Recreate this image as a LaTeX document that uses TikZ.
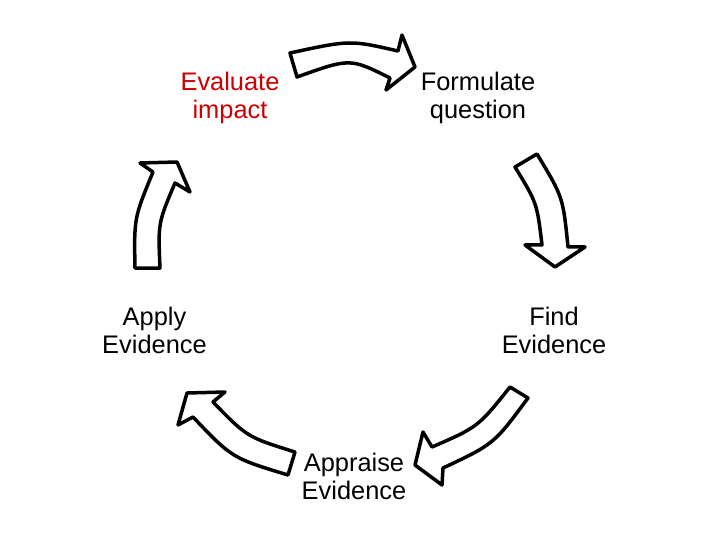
\documentclass[tikz,border=0pt]{standalone}
\usepackage{fontspec}
\setmainfont{Liberation Sans}
\definecolor{labelred}{RGB}{204,0,0}
\begin{document}
\begin{tikzpicture}[x=1bp,y=-1bp,
  cyclearrow/.style={draw=black, fill=white, line width=3.5bp, line join=round},
  steplabel/.style={align=center, anchor=center, inner sep=0pt,
    font=\fontsize{25.5}{27.8}\selectfont}]
\useasboundingbox (0,0) rectangle (720,540);
% arrows
\path[cyclearrow] (290,53) .. controls (350,40) .. (398,51) -- (402,35) -- (415,67) -- (386,90) -- (390,78) .. controls (350,58) .. (297,77) -- cycle;
\path[cyclearrow] (515,167) -- (537,154) .. controls (563,197) .. (568,247) -- (585,247) -- (555,267) -- (525,245) -- (542,245) .. controls (537,203) .. (515,167) -- cycle;
\path[cyclearrow] (510,387) .. controls (478,427) .. (432,447) -- (423,432) -- (415,465) -- (442,485) -- (443,468) .. controls (494,444) .. (528,398) -- cycle;
\path[cyclearrow] (295,452) .. controls (247,437) .. (213,402) -- (225,392) -- (187,393) -- (178,425) -- (193,417) .. controls (232,458) .. (288,475) -- cycle;
\path[cyclearrow] (135,268) .. controls (134,218) .. (153,172) -- (140,163) -- (177,162) -- (190,192) -- (175,183) .. controls (158,223) .. (160,268) -- cycle;
% labels
\node[steplabel, text=labelred] (evaluate) at (230,99) {\strut Evaluate\\\strut impact};
\node[steplabel] (formulate) at (478,99) {\strut Formulate\\\strut question};
\node[steplabel] (find) at (554,334) {\strut Find\\\strut Evidence};
\node[steplabel] (appraise) at (354,480) {\strut Appraise\\\strut Evidence};
\node[steplabel] (apply) at (154.5,334) {\strut Apply\\\strut Evidence};
\end{tikzpicture}
\end{document}
